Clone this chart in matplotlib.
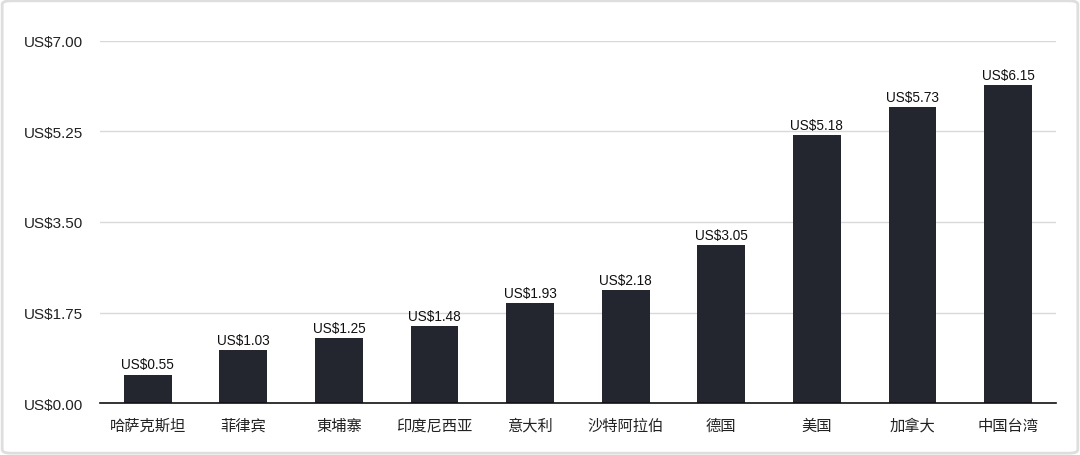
import numpy as np
import matplotlib
matplotlib.use("Agg")
import matplotlib.pyplot as plt
from matplotlib.patches import FancyBboxPatch

plt.rcParams['font.family'] = ['Liberation Sans', 'Noto Sans CJK SC', 'DejaVu Sans']

countries = ["哈萨克斯坦", "菲律宾", "東埔寨", "印度尼西亚", "意大利",
             "沙特阿拉伯", "德国", "美国", "加拿大", "中国台湾"]
prices = [0.55, 1.03, 1.25, 1.48, 1.93, 2.18, 3.05, 5.18, 5.73, 6.15]
yticks = [0.0, 1.75, 3.5, 5.25, 7.0]

fig = plt.figure(figsize=(10.8, 4.56), dpi=100)
ax = fig.add_axes([0.0926, 0.114, 0.885, 0.794])

x = np.arange(len(countries))
ax.bar(x, prices, width=0.5, color="#23252f", zorder=3)
for xi, v in zip(x, prices):
    ax.text(xi, v + 0.06, "US$%.2f" % v, ha="center", va="bottom",
            fontsize=9.8, color="#111111", zorder=4)

ax.set_xlim(-0.5, len(countries) - 0.5)
ax.set_ylim(0, 7.0)
ax.set_yticks(yticks)
ax.set_yticklabels(["US$%.2f" % t for t in yticks], fontsize=11, color="#222222")
ax.set_xticks(x)
ax.set_xticklabels(countries, fontsize=11, color="#222222",
                   family=['Noto Sans CJK SC', 'DejaVu Sans'])
ax.tick_params(axis="y", length=0, pad=12)
ax.tick_params(axis="x", length=0, pad=10)
ax.grid(axis="y", color="#d9d9d9", linewidth=1, zorder=0)
for s in ["top", "right", "left"]:
    ax.spines[s].set_visible(False)
ax.spines["bottom"].set_color("#111111")
ax.spines["bottom"].set_linewidth(1.2)
ax.spines["bottom"].set_zorder(5)

border = FancyBboxPatch((0.002, 0.004), 0.996, 0.992,
                        boxstyle="round,pad=0,rounding_size=0.008",
                        transform=fig.transFigure, fill=False,
                        edgecolor="#dedede", linewidth=2)
fig.patches.append(border)

fig.savefig("out.png", dpi=100)
